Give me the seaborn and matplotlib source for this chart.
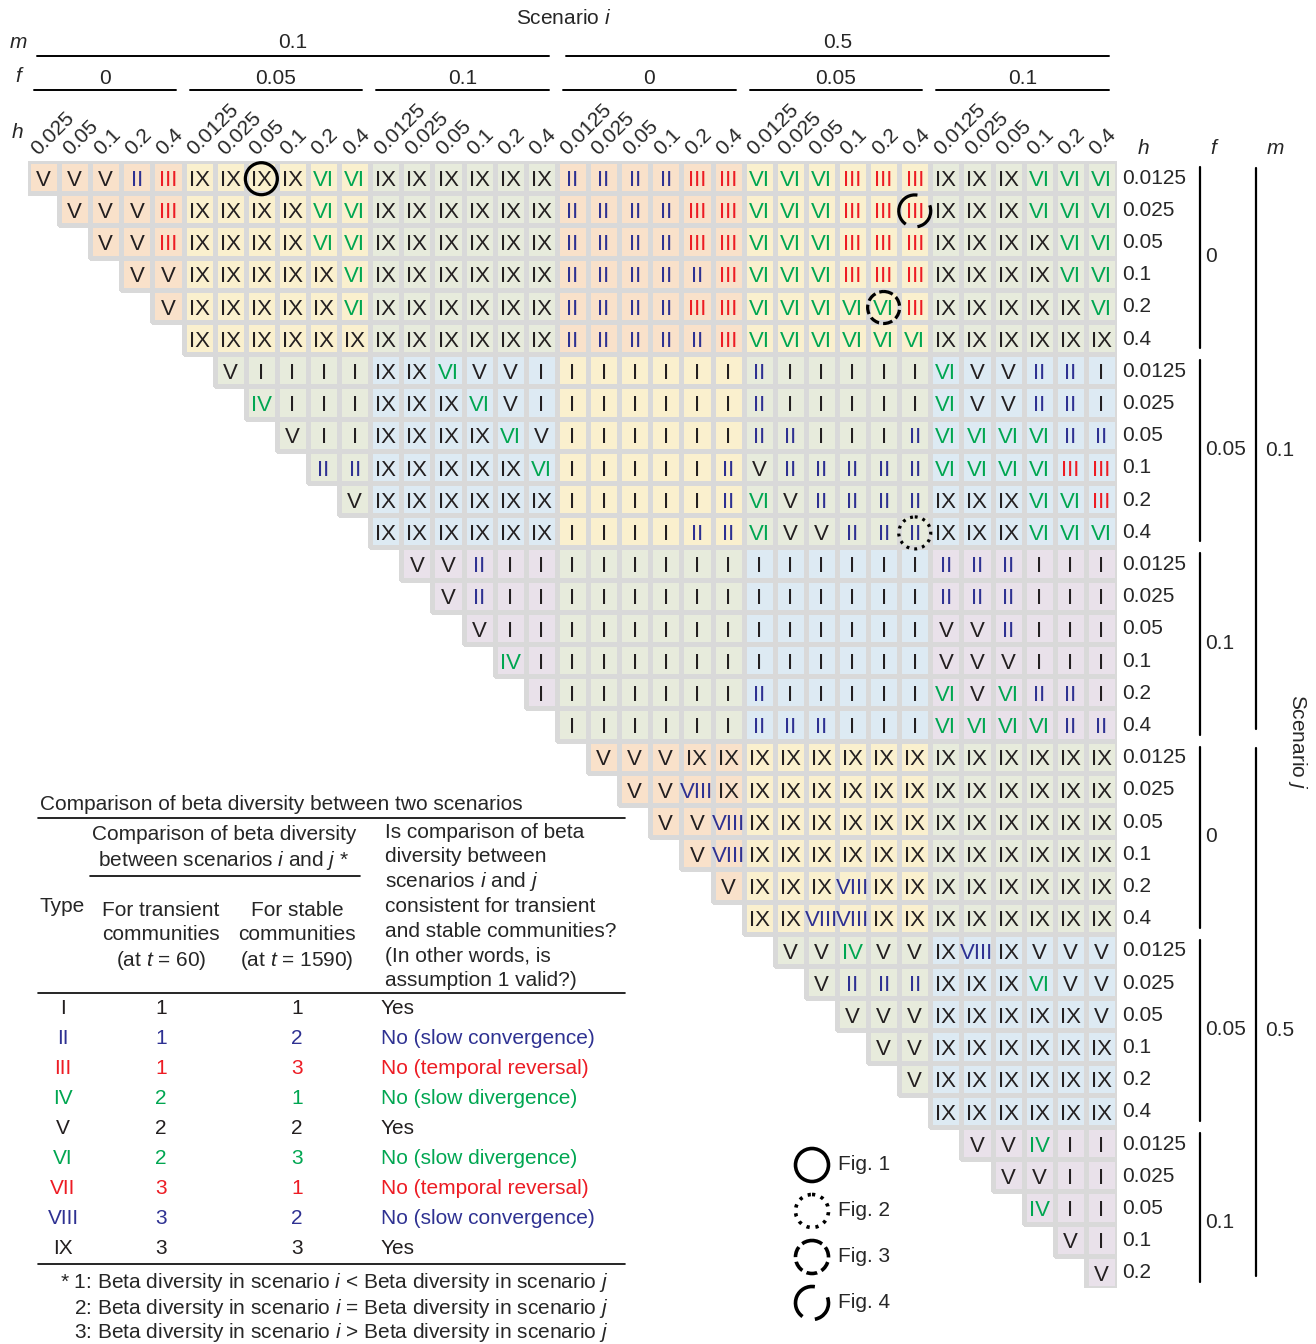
import matplotlib
matplotlib.use("Agg")
import numpy as np
import pandas as pd
import matplotlib.pyplot as plt
from matplotlib.colors import ListedColormap, to_rgba
from matplotlib.patches import Ellipse, Arc
import seaborn as sns

sns.set_style("white")
plt.rcParams["font.family"] = ["Liberation Sans", "DejaVu Sans"]
plt.rcParams["mathtext.fontset"] = "custom"
plt.rcParams["mathtext.it"] = "Liberation Sans:italic"
plt.rcParams["mathtext.rm"] = "Liberation Sans"

# Scenario factors, ordered m > f > h
m_levels = ["0.1", "0.5"]
f_levels = ["0", "0.05", "0.1"]
h_levels = ["0.0125", "0.025", "0.05", "0.1", "0.2", "0.4"]

# Comparison type for each scenario j (row); entries start at scenario i = j + 1.
# "|" separates the f/m blocks of scenario i.
rows_txt = [
    "V V V II III | IX IX IX IX VI VI | IX IX IX IX IX IX | II II II II III III | VI VI VI III III III | IX IX IX VI VI VI",
    "V V V III | IX IX IX IX VI VI | IX IX IX IX IX IX | II II II II III III | VI VI VI III III III | IX IX IX VI VI VI",
    "V V III | IX IX IX IX VI VI | IX IX IX IX IX IX | II II II II III III | VI VI VI III III III | IX IX IX IX VI VI",
    "V V | IX IX IX IX IX VI | IX IX IX IX IX IX | II II II II II III | VI VI VI III III III | IX IX IX IX VI VI",
    "V | IX IX IX IX IX VI | IX IX IX IX IX IX | II II II II III III | VI VI VI VI VI III | IX IX IX IX IX VI",
    "IX IX IX IX IX IX | IX IX IX IX IX IX | II II II II II III | VI VI VI VI VI VI | IX IX IX IX IX IX",
    "V I I I I | IX IX VI V V I | I I I I I I | II I I I I I | VI V V II II I",
    "IV I I I | IX IX IX VI V I | I I I I I I | II I I I I I | VI V V II II I",
    "V I I | IX IX IX IX VI V | I I I I I I | II II I I I II | VI VI VI VI II II",
    "II II | IX IX IX IX IX VI | I I I I I II | V II II II II II | VI VI VI VI III III",
    "V | IX IX IX IX IX IX | I I I I I II | VI V II II II II | IX IX IX VI VI III",
    "IX IX IX IX IX IX | I I I I II II | VI V V II II II | IX IX IX VI VI VI",
    "V V II I I | I I I I I I | I I I I I I | II II II I I I",
    "V II I I | I I I I I I | I I I I I I | II II II I I I",
    "V I I | I I I I I I | I I I I I I | V V II I I I",
    "IV I | I I I I I I | I I I I I I | V V V I I I",
    "I | I I I I I I | II I I I I I | VI V VI II II I",
    "I I I I I I | II II II I I I | VI VI VI VI II II",
    "V V V IX IX | IX IX IX IX IX IX | IX IX IX IX IX IX",
    "V V VIII IX | IX IX IX IX IX IX | IX IX IX IX IX IX",
    "V V VIII | IX IX IX IX IX IX | IX IX IX IX IX IX",
    "V VIII | IX IX IX IX IX IX | IX IX IX IX IX IX",
    "V | IX IX IX VIII IX IX | IX IX IX IX IX IX",
    "IX IX VIII VIII IX IX | IX IX IX IX IX IX",
    "V V IV V V | IX VIII IX V V V",
    "V II II II | IX IX IX VI V V",
    "V V V | IX IX IX IX IX V",
    "V V | IX IX IX IX IX IX",
    "V | IX IX IX IX IX IX",
    "IX IX IX IX IX IX",
    "V V IV I I",
    "V V I I",
    "IV I I",
    "V I",
    "V",
]

# Cells highlighted in the figures: (row j, column i, figure)
highlights = [(0, 7, "Fig. 1"), (11, 28, "Fig. 2"), (4, 27, "Fig. 3"), (1, 28, "Fig. 4")]

# Table of comparison types
type_names = ["I", "II", "III", "IV", "V", "VI", "VII", "VIII", "IX"]
transient_cmp = [1, 1, 1, 2, 2, 2, 3, 3, 3]
stable_cmp = [1, 2, 3, 1, 2, 3, 1, 2, 3]
consistency = ["Yes", "No (slow convergence)", "No (temporal reversal)",
               "No (slow divergence)", "Yes", "No (slow divergence)",
               "No (temporal reversal)", "No (slow convergence)", "Yes"]

BLACK, BLUE, RED, GREEN = "#231F20", "#2E3192", "#ED1C24", "#00A651"
type_color = {"I": BLACK, "II": BLUE, "III": RED, "IV": GREEN, "V": BLACK,
              "VI": GREEN, "VII": RED, "VIII": BLUE, "IX": BLACK}
# background shade by the sum of f of the two scenarios
shade_colors = ["#F9E1CA", "#FAF0CE", "#E7EBDC", "#DDEAF3", "#E9E1EA"]
GRID_GRAY = "#D9D9D9"

scen = [(m, f, h) for m in m_levels for f in f_levels for h in h_levels]
row_scen = scen[:-1]
col_scen = scen[1:]
n = len(row_scen)

types = np.full((n, n), "", dtype=object)
for r, line in enumerate(rows_txt):
    vals = line.replace("|", " ").split()
    assert len(vals) == n - r
    for k, v in enumerate(vals):
        types[r, r + k] = v
mask = types == ""
fidx = {f: i for i, f in enumerate(f_levels)}
shade = np.array([[fidx[rs[1]] + fidx[cs[1]] for cs in col_scen] for rs in row_scen], float)
shade_df = pd.DataFrame(shade,
                        index=["/".join(s) for s in row_scen],
                        columns=["/".join(s) for s in col_scen])

# ---- figure geometry (pixels) ----
W_PX, H_PX = 1316, 1344
GX0, GX1, GY0, GY1 = 28, 1117, 161, 1288
CW = (GX1 - GX0) / n
CH = (GY1 - GY0) / n

fig = plt.figure(figsize=(W_PX / 100, H_PX / 100), dpi=100)
ax = fig.add_axes([GX0 / W_PX, 1 - GY1 / H_PX, (GX1 - GX0) / W_PX, (GY1 - GY0) / H_PX])
sns.heatmap(shade_df, mask=mask, cmap=ListedColormap(shade_colors), vmin=-0.5, vmax=4.5,
            cbar=False, linewidths=2.2, linecolor=GRID_GRAY,
            xticklabels=False, yticklabels=False, ax=ax)
ax.set_xlabel("")
ax.set_ylabel("")
# keep cell borders only around the drawn (upper-triangle) cells
mesh = ax.collections[0]
mesh.set_edgecolor([(0, 0, 0, 0) if mk else to_rgba(GRID_GRAY) for mk in mask.ravel()])

for r in range(n):
    for c in range(n):
        t = types[r, c]
        if t:
            ax.text(c + 0.5, r + 0.6, t, ha="center", va="center", fontsize=16,
                    color=type_color[t])

D = 32.0  # marker diameter in pixels


def ring(axis, x, y, w, h, style, lw=2.3):
    if style == "Fig. 4":
        # two arcs (visual angles, counter-clockwise) drawn on an inverted y-axis
        for p1, p2 in [(80, 235), (280, 380)]:
            axis.add_patch(Arc((x, y), w, h, theta1=-p2, theta2=-p1, lw=lw,
                               color="black", clip_on=False, zorder=5))
        return
    ls = {"Fig. 1": "-", "Fig. 2": (0, (0.9, 1.6)), "Fig. 3": (0, (3.0, 1.3))}[style]
    axis.add_patch(Ellipse((x, y), w, h, fill=False, lw=lw, ls=ls, ec="black",
                           clip_on=False, zorder=5))


for r, c, sty in highlights:
    ring(ax, c + 0.5, r + 0.55, D / CW, D / CH, sty)

# ---- overlay in pixel coordinates for labels, table and legend ----
ov = fig.add_axes([0, 0, 1, 1])
ov.set_xlim(0, W_PX)
ov.set_ylim(H_PX, 0)
ov.axis("off")
ov.patch.set_alpha(0)

FS = 15


def col_x(c):
    return GX0 + (c + 0.5) * CW


def row_y(r):
    return GY0 + (r + 0.5) * CH


# top header
ov.text(564, 18, "Scenario $i$", ha="center", va="center", fontsize=FS)
ov.text(18, 42, "m", ha="center", va="center", fontsize=FS, style="italic")
ov.text(18, 77, "f", ha="center", va="center", fontsize=FS, style="italic")
ov.text(17, 133, "h", ha="center", va="center", fontsize=FS, style="italic")

for c, (m, f, h) in enumerate(col_scen):
    ov.text(col_x(c) - 5, 156, h, rotation=45, rotation_mode="anchor",
            ha="left", va="baseline", fontsize=FS)

for m in m_levels:
    idx = [c for c, s in enumerate(col_scen) if s[0] == m]
    x0, x1 = GX0 + idx[0] * CW + 9, GX0 + (idx[-1] + 1) * CW - 8
    ov.plot([x0, x1], [56, 56], color="black", lw=1.4)
    ov.text((x0 + x1) / 2, 42, m, ha="center", va="center", fontsize=FS)
    for f in f_levels:
        idx = [c for c, s in enumerate(col_scen) if s[0] == m and s[1] == f]
        x0, x1 = GX0 + idx[0] * CW + 6, GX0 + (idx[-1] + 1) * CW - 8
        ov.plot([x0, x1], [90, 90], color="black", lw=1.4)
        ov.text((x0 + x1) / 2, 79, f, ha="center", va="center", fontsize=FS)

# right header
ov.text(1143, 148, "h", ha="center", va="center", fontsize=FS, style="italic")
ov.text(1213, 148, "f", ha="center", va="center", fontsize=FS, style="italic")
ov.text(1275, 148, "m", ha="center", va="center", fontsize=FS, style="italic")
for r, (m, f, h) in enumerate(row_scen):
    ov.text(GX1 + 5, row_y(r) + 1, h, ha="left", va="center", fontsize=FS)
for m in m_levels:
    idx = [r for r, s in enumerate(row_scen) if s[0] == m]
    y0, y1 = GY0 + idx[0] * CH + 7, GY0 + (idx[-1] + 1) * CH - 12
    ov.plot([1256, 1256], [y0, y1], color="black", lw=1.6)
    mid = [r for r, s in enumerate(row_scen) if s[0] == m and s[1] == f_levels[1]]
    ov.text(1265, GY0 + (mid[0] + 3) * CH, m, ha="left", va="center", fontsize=FS)
    for f in f_levels:
        idx = [r for r, s in enumerate(row_scen) if s[0] == m and s[1] == f]
        y0, y1 = GY0 + idx[0] * CH + 6, GY0 + (idx[-1] + 1) * CH - 6
        ov.plot([1200, 1200], [y0, y1], color="black", lw=1.6)
        ov.text(1205, GY0 + (idx[0] + 2.97) * CH, f, ha="left", va="center", fontsize=FS)
ov.text(1298, 742, "Scenario $j$", rotation=270, ha="center", va="center", fontsize=FS)

# ---- table ----
ov.text(40, 804, "Comparison of beta diversity between two scenarios", ha="left",
        va="center", fontsize=FS)
ov.plot([38, 625], [818, 818], color="black", lw=1.2)
ov.text(224, 835, "Comparison of beta diversity", ha="center", va="center", fontsize=FS)
ov.text(224, 860, "between scenarios $i$ and $j$ *", ha="center", va="center", fontsize=FS)
ov.plot([90, 360], [876, 876], color="black", lw=1.2)
ov.text(40, 906, "Type", ha="left", va="center", fontsize=FS)
for x, lines in [(161, ["For transient", "communities", "(at $t$ = 60)"]),
                 (297, ["For stable", "communities", "(at $t$ = 1590)"])]:
    for k, s in enumerate(lines):
        ov.text(x, 910 + 25 * k, s, ha="center", va="center", fontsize=FS)
q_lines = ["Is comparison of beta", "diversity between", "scenarios $i$ and $j$",
           "consistent for transient", "and stable communities?",
           "(In other words, is", "assumption 1 valid?)"]
for k, s in enumerate(q_lines):
    ov.text(385, 832 + 24.8 * k, s, ha="left", va="center", fontsize=FS)
ov.plot([38, 625], [993, 993], color="black", lw=1.2)
for k, t in enumerate(type_names):
    y = 1009 + 30 * k
    col = type_color[t]
    ov.text(63, y, t, ha="center", va="center", fontsize=FS, color=col)
    ov.text(161, y, str(transient_cmp[k]), ha="center", va="center", fontsize=FS, color=col)
    ov.text(297, y, str(stable_cmp[k]), ha="center", va="center", fontsize=FS, color=col)
    ov.text(381, y, consistency[k], ha="left", va="center", fontsize=FS, color=col)
ov.plot([38, 625], [1264, 1264], color="black", lw=1.2)
ov.text(60, 1283, "* 1: Beta diversity in scenario $i$ < Beta diversity in scenario $j$",
        ha="left", va="center", fontsize=FS)
ov.text(74, 1308, "2: Beta diversity in scenario $i$ = Beta diversity in scenario $j$",
        ha="left", va="center", fontsize=FS)
ov.text(74, 1333, "3: Beta diversity in scenario $i$ > Beta diversity in scenario $j$",
        ha="left", va="center", fontsize=FS)

# ---- legend for highlighted cells ----
for k, sty in enumerate(["Fig. 1", "Fig. 2", "Fig. 3", "Fig. 4"]):
    y = 1165 + 46 * k
    ring(ov, 812, y, 33, 33, sty, lw=2.6)
    ov.text(838, y, sty, ha="left", va="center", fontsize=FS)

fig.savefig("out.png", dpi=100)
